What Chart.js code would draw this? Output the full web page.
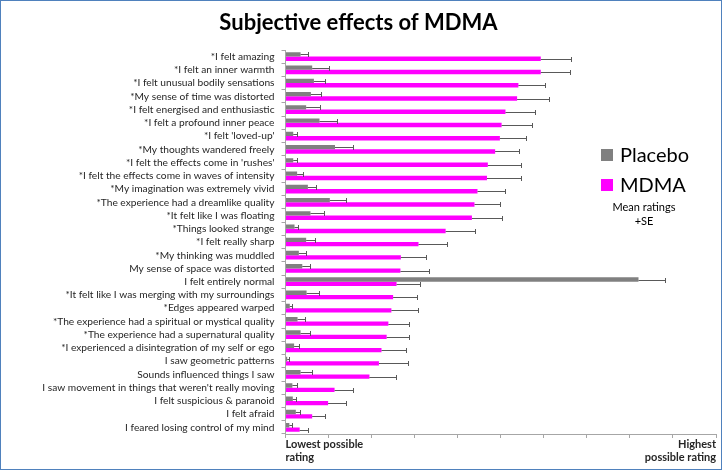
<!DOCTYPE html>
<html>
<head>
<meta charset="utf-8">
<title>Subjective effects of MDMA</title>
<script src="https://cdn.jsdelivr.net/npm/chart.js"></script>
<style>
    body { margin: 0; background: #fff; }
    #wrap { position: relative; width: 722px; height: 470px; box-sizing: border-box; border: 1px solid #4f81bd; }
    #wrap canvas { display: block; }
    .key { position: absolute; font-family: Lato, sans-serif; color: #000; }
    .sw { position: absolute; width: 12px; height: 12px; }
</style>
</head>
<body>
<div id="wrap">
    <canvas id="chartCanvas" width="720" height="468"></canvas>
    <div class="sw" style="left:600px;top:148px;background:#808080"></div>
    <div class="key" style="left:619px;top:141px;font-size:20px">Placebo</div>
    <div class="sw" style="left:600px;top:178px;background:#ff00ff"></div>
    <div class="key" style="left:619px;top:171px;font-size:20px">MDMA</div>
    <div class="key" style="left:593px;top:199px;width:100px;text-align:center;font-size:11px;line-height:14px">Mean ratings<br>+SE</div>
</div>
<script>
    var items = [
        "*I felt amazing",
        "*I felt an inner warmth",
        "*I felt unusual bodily sensations",
        "*My sense of time was distorted",
        "*I felt energised and enthusiastic",
        "*I felt a profound inner peace",
        "*I felt 'loved-up'",
        "*My thoughts wandered freely",
        "*I felt the effects come in 'rushes'",
        "*I felt the effects come in waves of intensity",
        "*My imagination was extremely vivid",
        "*The experience had a dreamlike quality",
        "*It felt like I was floating",
        "*Things looked strange",
        "*I felt really sharp",
        "*My thinking was muddled",
        "My sense of space was distorted",
        "I felt entirely normal",
        "*It felt like I was merging with my surroundings",
        "*Edges appeared warped",
        "*The experience had a spiritual or mystical quality",
        "*The experience had a supernatural quality",
        "*I experienced a disintegration of my self or ego",
        "I saw geometric patterns",
        "Sounds influenced things I saw",
        "I saw movement in things that weren't really moving",
        "I felt suspicious & paranoid",
        "I felt afraid",
        "I feared losing control of my mind"
    ];

    // mean ratings (0 = lowest possible, 100 = highest possible)
    var placebo = [3.5, 6.2, 6.6, 5.9, 4.8, 7.9, 1.8, 11.5, 1.8, 2.7, 5.2, 10.3, 5.8, 2.1, 4.8,
                   3.1, 3.9, 82.0, 4.9, 1.0, 2.8, 3.5, 2.0, 0.4, 3.5, 1.6, 1.7, 2.4, 0.9];
    var placeboSE = [1.7, 3.8, 2.6, 2.4, 3.1, 4.1, 0.9, 4.2, 0.9, 1.4, 1.9, 3.8, 3.1, 0.9, 2.1,
                     1.7, 1.9, 6.2, 2.8, 0.5, 1.8, 2.2, 1.1, 0.5, 2.7, 1.0, 0.7, 1.0, 0.6];
    var mdma = [59.3, 59.3, 54.1, 53.8, 51.1, 50.2, 49.8, 48.7, 47.0, 46.8, 44.6, 43.9, 43.3, 37.2, 30.9,
                26.8, 26.7, 25.8, 25.0, 24.6, 23.9, 23.5, 22.3, 21.7, 19.5, 11.4, 9.9, 6.2, 3.3];
    var mdmaSE = [7.0, 6.8, 6.2, 7.5, 6.9, 7.1, 6.1, 5.6, 7.6, 8.0, 6.5, 6.0, 7.1, 6.8, 6.5,
                  5.9, 6.7, 5.5, 5.6, 6.2, 4.7, 5.3, 5.7, 6.8, 6.2, 4.2, 4.2, 3.0, 2.0];

    var scaleMin = 0;
    var scaleMax = 100;
    var scaleStep = 10;
    var lowLabel = ["Lowest possible", "rating"];
    var highLabel = ["Highest", "possible rating"];

    // +SE whiskers drawn from the scale positions
    var errorBars = {
        id: 'errorBars',
        afterDatasetsDraw: function(chart) {
            var ctx = chart.ctx;
            var xs = chart.scales.x;
            ctx.save();
            ctx.strokeStyle = '#595959';
            ctx.lineWidth = 1;
            chart.data.datasets.forEach(function(ds, i) {
                var meta = chart.getDatasetMeta(i);
                meta.data.forEach(function(bar, j) {
                    var x0 = xs.getPixelForValue(ds.data[j]);
                    var x1 = xs.getPixelForValue(ds.data[j] + ds.se[j]);
                    var y = Math.round(bar.y) + 0.5;
                    var xe = Math.round(x1) + 0.5;
                    ctx.beginPath();
                    ctx.moveTo(x0, y);
                    ctx.lineTo(xe, y);
                    ctx.moveTo(xe, y - 2.5);
                    ctx.lineTo(xe, y + 2.5);
                    ctx.stroke();
                });
            });
            ctx.restore();
        }
    };

    var ctx = document.getElementById('chartCanvas').getContext('2d');
    var chart = new Chart(ctx, {
        type: 'bar',
        data: {
            labels: items,
            datasets: [{
                label: 'Placebo',
                data: placebo,
                se: placeboSE,
                backgroundColor: '#808080',
                borderWidth: 0
            }, {
                label: 'MDMA',
                data: mdma,
                se: mdmaSE,
                backgroundColor: '#ff00ff',
                borderWidth: 0
            }]
        },
        options: {
            indexAxis: 'y',
            responsive: false,
            animation: false,
            categoryPercentage: 0.66,
            barPercentage: 1.0,
            layout: { padding: { left: 0, right: 5, top: 0, bottom: 0 } },
            plugins: {
                legend: { display: false },
                tooltip: { enabled: false },
                title: {
                    display: true,
                    text: 'Subjective effects of MDMA',
                    color: '#000',
                    font: { family: 'Lato', size: 22, weight: 'bold' },
                    padding: { top: 9, bottom: 13.6 }
                }
            },
            scales: {
                x: {
                    min: scaleMin,
                    max: scaleMax,
                    afterFit: function(scale) { scale.height = 35; },
                    grid: { drawOnChartArea: false, tickLength: 4, color: '#a6a6a6' },
                    border: { color: '#a6a6a6' },
                    ticks: {
                        stepSize: scaleStep,
                        autoSkip: false,
                        maxRotation: 0,
                        align: 'inner',
                        padding: 0,
                        color: '#262626',
                        font: { family: 'Lato', size: 11, weight: 'bold', lineHeight: 1.2 },
                        callback: function(v) {
                            if (v === scaleMin) return lowLabel;
                            if (v === scaleMax) return highLabel;
                            return '';
                        }
                    }
                },
                y: {
                    afterFit: function(scale) { scale.width = 284.5; },
                    grid: { drawOnChartArea: false, tickLength: 4, color: '#a6a6a6' },
                    border: { color: '#a6a6a6' },
                    ticks: {
                        autoSkip: false,
                        padding: 7,
                        color: '#262626',
                        font: { family: 'Lato', size: 10.2 }
                    }
                }
            }
        },
        plugins: [errorBars]
    });
</script>
</body>
</html>
